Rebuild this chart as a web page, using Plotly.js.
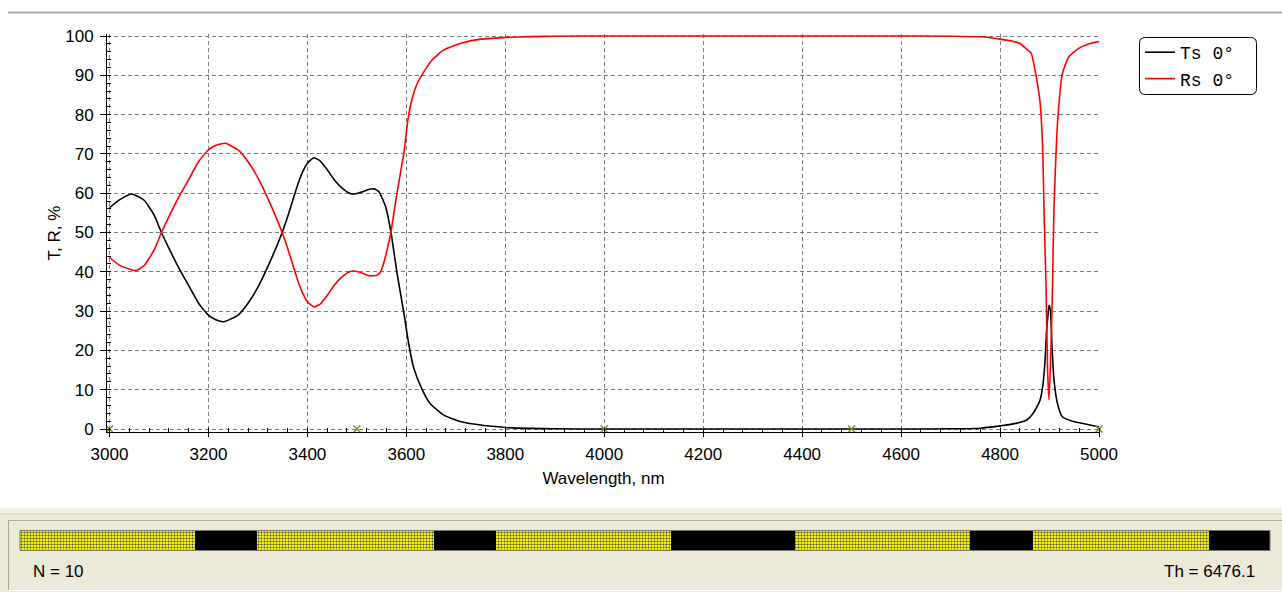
<!DOCTYPE html>
<html>
<head>
<meta charset="utf-8">
<script src="https://cdn.plot.ly/plotly-3.0.1.min.js"></script>
<style>html,body{margin:0;padding:0;background:#fff;}#chart{width:1282px;height:592px;}</style>
</head>
<body>
<div id="chart"></div>
<script>
// ---- data ----
const lambdaT = [3000,3020,3045,3070,3090,3105,3120,3140,3160,3180,3200,3215,3231,3260,3280,3300,3320,3349,3360,3370,3380,3390,3400,3413,3425,3440,3455,3470,3485,3495,3510,3525,3535,3545,3552,3558,3569,3581,3595,3605,3615,3632,3648,3675,3709,3750,3800,3850,3900,4000,4200,4400,4600,4700,4760,4800,4827,4854,4867,4881,4887,4891,4894,4897,4899,4902,4905,4909,4916,4926,4948,4975,5000];
const Ts = [56.3,58.3,59.8,58.2,54.5,50,46,41,36.5,32,29,27.8,27.3,29,32,36.1,41.3,50,54,58,62,65.3,67.6,69,68.3,66,63.3,61.3,60,59.8,60.3,61,61.1,60.3,58.5,56.6,50,39.8,29.5,21.5,15.5,10,6.5,3.6,1.9,1.0,0.4,0.15,0.05,0,0,0,0,0.05,0.2,0.8,1.3,2.3,4,7.4,11.6,17.6,25,29,31.5,30,21,12.5,6.5,3.1,1.9,1.2,0.5];

const lambdaR = [3000,3020,3053,3070,3090,3105,3120,3140,3160,3180,3200,3215,3234,3260,3280,3300,3320,3349,3360,3370,3380,3390,3400,3413,3425,3440,3455,3470,3485,3495,3510,3525,3541,3548,3554,3560,3569,3581,3595,3603,3611,3622,3635,3652,3675,3709,3750,3800,3850,3900,4000,4200,4400,4600,4700,4760,4800,4827,4840,4854,4863,4873,4881,4886,4889,4893,4896,4899,4903,4906,4909,4914,4918,4926,4939,4960,4980,5000];
const Rs = [43.7,41.7,40.3,41.6,45.5,50,54,59,63.5,68,71,72.2,72.7,71,68,63.9,58.7,50,46,42,38,34.7,32.4,31.1,31.7,34,36.7,38.7,40,40.2,39.7,39,39.1,40,42.1,45,50.2,60,70.2,78.5,83.7,87.9,90.8,93.9,96.4,98.1,99.2,99.6,99.85,99.95,100,100,100,100,99.95,99.8,99.2,98.6,98.1,96.6,95.6,89.7,82.9,71.8,54.9,36.2,15,7.4,21,36.2,56.6,72.7,81.2,90.5,94.7,96.9,98,98.6];

const markerLambda = [3000,3500,4000,4500,5000];
const markerValue = [0,0,0,0,0];

const layerThick = [906.7,321.2,917,321.2,906.7,642.4,906.7,326.4,911.8,316];
const layerMat = ['H','L','H','L','H','L','H','L','H','L'];

const seriesNames = ['Ts 0°','Rs 0°'];
const infoN = 'N = 10';
const infoTh = 'Th = 6476.1';

// ---- helpers ----
const W = 1282, H = 592;
const px = x => x / W;
const py = y => (H - y) / H;

const layerBase = [];
let acc = 0;
layerThick.forEach(t => { layerBase.push(acc); acc += t; });
const totalTh = acc;

const tickFont = {family: 'Liberation Sans, Arial, sans-serif', size: 17, color: '#000'};
const gridCol = '#7c7c7c';

const traces = [
  {x: lambdaT, y: Ts, type: 'scatter', mode: 'lines', name: seriesNames[0],
   line: {color: '#000000', width: 1.6, shape: 'spline', smoothing: 0.5}, xaxis: 'x', yaxis: 'y'},
  {x: lambdaR, y: Rs, type: 'scatter', mode: 'lines', name: seriesNames[1],
   line: {color: '#FF0000', width: 1.6, shape: 'spline', smoothing: 0.5}, xaxis: 'x', yaxis: 'y'},
  {x: markerLambda, y: markerValue, type: 'scatter', mode: 'markers', showlegend: false,
   marker: {symbol: 'x-thin', size: 7, line: {color: '#8a8a20', width: 1.5}, color: '#8a8a20'},
   cliponaxis: false, xaxis: 'x', yaxis: 'y', hoverinfo: 'skip'},
  {type: 'bar', orientation: 'h', showlegend: false, xaxis: 'x2', yaxis: 'y2',
   y: layerThick.map(() => 0), x: layerThick, base: layerBase, width: 1,
   marker: {
     color: layerMat.map(m => m === 'H' ? '#FFFF00' : '#000000'),
     line: {width: 0},
     pattern: {
       shape: layerMat.map(m => m === 'H' ? '.' : ''),
       fgcolor: '#000000', fgopacity: 1, size: 3, solidity: 0.38, fillmode: 'overlay'
     }
   }, hoverinfo: 'skip'}
];

// rounded legend frame
function roundRect(x0, y0, x1, y1, r) {
  const X = v => px(v).toFixed(5), Y = v => py(v).toFixed(5);
  return `M${X(x0 + r)},${Y(y0)} L${X(x1 - r)},${Y(y0)} Q${X(x1)},${Y(y0)} ${X(x1)},${Y(y0 + r)} ` +
         `L${X(x1)},${Y(y1 - r)} Q${X(x1)},${Y(y1)} ${X(x1 - r)},${Y(y1)} ` +
         `L${X(x0 + r)},${Y(y1)} Q${X(x0)},${Y(y1)} ${X(x0)},${Y(y1 - r)} ` +
         `L${X(x0)},${Y(y0 + r)} Q${X(x0)},${Y(y0)} ${X(x0 + r)},${Y(y0)} Z`;
}

const shapes = [
  {type: 'line', xref: 'paper', yref: 'paper', x0: px(8), x1: 1, y0: py(12.5), y1: py(12.5),
   line: {color: '#ACA899', width: 2}, layer: 'below'},
  {type: 'rect', xref: 'paper', yref: 'paper', x0: 0, x1: 1, y0: 0, y1: py(508),
   fillcolor: '#ECE9D8', line: {width: 0}, layer: 'below'},
  {type: 'rect', xref: 'paper', yref: 'paper', x0: 0, x1: 1, y0: py(513.5), y1: py(508),
   fillcolor: '#F3F1E8', line: {width: 0}, layer: 'below'},
  {type: 'line', xref: 'paper', yref: 'paper', x0: 0, x1: 1, y0: py(514), y1: py(514),
   line: {color: '#CCC8B4', width: 1}, layer: 'below'},
  {type: 'line', xref: 'paper', yref: 'paper', x0: px(8.5), x1: 1, y0: py(520.5), y1: py(520.5),
   line: {color: '#ACA899', width: 1}, layer: 'below'},
  {type: 'line', xref: 'paper', yref: 'paper', x0: px(8.5), x1: px(8.5), y0: py(520.5), y1: py(590),
   line: {color: '#ACA899', width: 1}, layer: 'below'},
  {type: 'line', xref: 'paper', yref: 'paper', x0: px(8.5), x1: 1, y0: py(590.5), y1: py(590.5),
   line: {color: '#FFFFFF', width: 1}, layer: 'below'},
  {type: 'rect', xref: 'paper', yref: 'paper', x0: px(20), x1: px(1270), y0: py(550.5), y1: py(530.5),
   line: {color: '#7a7866', width: 1}, fillcolor: 'rgba(0,0,0,0)', layer: 'above'},
  {type: 'path', xref: 'paper', yref: 'paper', path: roundRect(1139.5, 37.5, 1256.5, 94.5, 6),
   line: {color: '#000', width: 1}, fillcolor: 'rgba(255,255,255,1)', layer: 'below'}
];

const layout = {
  width: W, height: H,
  margin: {l: 0, r: 0, t: 0, b: 0},
  paper_bgcolor: '#FFFFFF', plot_bgcolor: 'rgba(0,0,0,0)',
  font: tickFont,
  showlegend: true,
  xaxis: {
    domain: [px(107), px(1100)], range: [2994.95, 5002], anchor: 'y',
    tick0: 3000, dtick: 200, showgrid: true, gridcolor: gridCol, gridwidth: 1, griddash: '4px,3px',
    showline: true, linecolor: '#000', linewidth: 1, zeroline: false,
    ticks: 'outside', ticklen: 4, tickcolor: '#000', ticklabelstandoff: 3,
    minor: {ticks: 'inside', dtick: 40, ticklen: 4, tickcolor: '#000', showgrid: false},
    tickfont: tickFont,
    title: {text: 'Wavelength, nm', font: tickFont, standoff: 8}
  },
  yaxis: {
    domain: [py(432), py(34)], range: [-0.763, 100.509], anchor: 'x',
    tick0: 0, dtick: 10, showgrid: true, gridcolor: gridCol, gridwidth: 1, griddash: '4px,3px',
    showline: true, linecolor: '#000', linewidth: 1, zeroline: false,
    ticks: 'outside', ticklen: 6, tickcolor: '#000', ticklabelstandoff: 3,
    minor: {ticks: 'inside', dtick: 2, ticklen: 4, tickcolor: '#000', showgrid: false},
    tickfont: tickFont,
    title: {text: 'T, R, %', font: tickFont, standoff: 0}
  },
  xaxis2: {domain: [px(20), px(1270)], range: [0, totalTh], visible: false, anchor: 'y2', fixedrange: true},
  yaxis2: {domain: [py(550), py(531)], range: [-0.5, 0.5], visible: false, anchor: 'x2', fixedrange: true},
  legend: {
    x: px(1140), y: py(34), xanchor: 'left', yanchor: 'top',
    bgcolor: 'rgba(0,0,0,0)', borderwidth: 0,
    font: {family: 'Liberation Mono, Courier New, monospace', size: 18, color: '#000'},
    itemwidth: 30, tracegroupgap: 0
  },
  shapes: shapes,
  annotations: [
    {xref: 'paper', yref: 'paper', x: px(31), y: py(571), xanchor: 'left', yanchor: 'middle',
     text: infoN, showarrow: false, font: tickFont},
    {xref: 'paper', yref: 'paper', x: px(1257), y: py(571), xanchor: 'right', yanchor: 'middle',
     text: infoTh, showarrow: false, font: tickFont}
  ]
};

Plotly.newPlot('chart', traces, layout, {displayModeBar: false, staticPlot: true});
</script>
</body>
</html>
